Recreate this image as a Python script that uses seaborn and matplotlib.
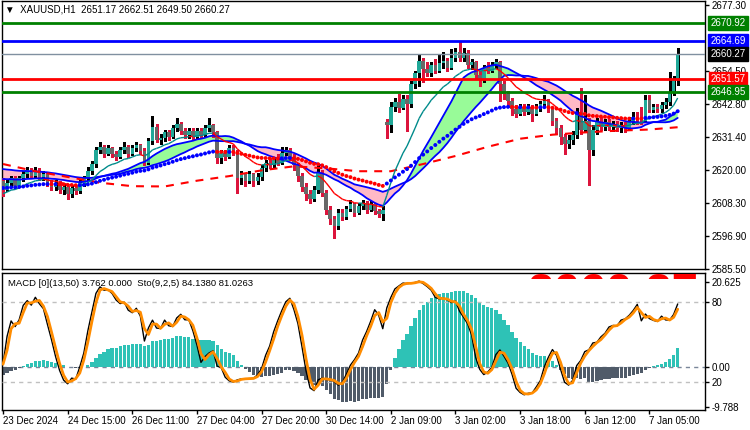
import numpy as np
import pandas as pd
import matplotlib
matplotlib.use("Agg")
import matplotlib.pyplot as plt
import matplotlib.transforms as mtransforms
from matplotlib.collections import LineCollection
import seaborn as sns

sns.set_theme(style="white")
plt.rcParams["font.family"] = ["Liberation Sans", "DejaVu Sans"]
plt.rcParams["text.color"] = "black"
plt.rcParams["xtick.color"] = "black"
plt.rcParams["ytick.color"] = "black"

# ---------------- data (H1 bars) ----------------
opens = [
2616.0, 2613.0, 2615.5, 2617.0, 2614.5, 2617.0, 2618.5, 2620.0, 2618.0, 2619.5,
2617.5, 2618.5, 2615.5, 2614.0, 2615.5, 2613.0, 2614.0, 2611.5, 2613.5, 2612.5,
2615.5, 2617.0, 2619.5, 2622.0, 2627.0, 2628.0, 2625.5, 2627.5, 2625.5, 2624.5,
2627.0, 2628.0, 2625.5, 2627.5, 2628.5, 2626.5, 2622.5, 2630.0, 2635.0, 2630.5,
2631.0, 2633.0, 2631.5, 2634.5, 2636.0, 2633.5, 2632.0, 2633.5, 2631.5, 2633.5,
2632.0, 2634.5, 2635.5, 2633.0, 2624.0, 2626.0, 2624.5, 2627.5, 2626.0, 2617.0,
2618.5, 2616.0, 2618.5, 2616.0, 2617.5, 2620.5, 2622.5, 2621.5, 2623.5, 2622.5,
2626.0, 2627.0, 2624.5, 2621.5, 2618.0, 2614.0, 2611.5, 2610.0, 2613.0, 2619.0,
2612.0, 2606.0, 2603.0, 2600.5, 2605.0, 2603.5, 2606.5, 2608.0, 2605.0, 2607.5,
2608.5, 2606.0, 2608.0, 2605.5, 2604.5, 2636.5, 2635.5, 2642.0, 2643.5, 2641.5,
2644.5, 2643.0, 2650.0, 2653.5, 2658.0, 2655.0, 2653.5, 2656.5, 2654.5, 2657.0,
2658.0, 2655.5, 2659.0, 2661.0, 2659.0, 2660.5, 2656.5, 2657.5, 2653.0, 2651.5,
2655.5, 2654.5, 2656.5, 2657.5, 2650.0, 2646.5, 2644.0, 2641.0, 2639.5, 2642.0,
2640.0, 2642.0, 2639.5, 2641.5, 2643.0, 2644.0, 2641.5, 2637.0, 2634.5, 2631.5,
2629.0, 2630.5, 2632.0, 2640.0, 2634.0, 2637.0, 2627.0, 2634.0, 2636.5, 2635.0,
2636.5, 2635.0, 2636.0, 2634.5, 2635.5, 2634.5, 2637.0, 2638.5, 2637.5, 2637.0,
2644.3, 2640.8, 2641.8, 2641.0, 2642.5, 2643.5, 2647.0, 2651.17]

highs = [
2617.0, 2616.5, 2618.0, 2618.0, 2618.0, 2619.5, 2621.0, 2620.5, 2621.0, 2620.5,
2619.5, 2619.0, 2616.5, 2616.5, 2616.0, 2615.0, 2614.5, 2614.5, 2614.5, 2616.5,
2618.0, 2621.0, 2623.0, 2628.0, 2629.5, 2628.5, 2628.5, 2628.0, 2626.5, 2628.0,
2629.5, 2628.5, 2628.5, 2629.5, 2629.0, 2627.5, 2631.0, 2638.7, 2636.0, 2632.5,
2634.0, 2634.0, 2635.5, 2638.0, 2636.5, 2634.5, 2634.5, 2634.5, 2634.5, 2634.5,
2635.5, 2638.0, 2636.0, 2633.5, 2627.0, 2627.0, 2628.5, 2628.5, 2627.0, 2619.5,
2619.0, 2619.5, 2619.0, 2619.0, 2621.5, 2623.5, 2624.0, 2624.5, 2625.5, 2628.0,
2628.0, 2627.5, 2625.5, 2622.5, 2619.0, 2615.5, 2613.0, 2614.5, 2622.0, 2620.0,
2613.0, 2607.5, 2604.0, 2606.5, 2606.5, 2607.5, 2609.5, 2608.5, 2608.5, 2609.5,
2609.0, 2609.0, 2608.5, 2606.5, 2607.5, 2637.5, 2643.5, 2645.0, 2646.5, 2646.0,
2646.0, 2651.0, 2654.5, 2660.0, 2659.0, 2657.5, 2657.5, 2658.5, 2660.0, 2661.0,
2659.0, 2662.0, 2662.5, 2664.4, 2662.5, 2661.5, 2658.5, 2658.0, 2654.5, 2656.5,
2657.5, 2657.5, 2658.5, 2658.0, 2651.0, 2647.5, 2645.0, 2642.5, 2643.0, 2643.0,
2643.0, 2642.5, 2643.0, 2644.0, 2646.0, 2644.5, 2642.0, 2638.0, 2635.5, 2632.5,
2632.0, 2633.5, 2641.5, 2648.5, 2646.0, 2638.0, 2635.5, 2638.0, 2638.5, 2637.5,
2637.5, 2637.0, 2637.0, 2636.5, 2636.5, 2638.5, 2640.0, 2640.0, 2642.0, 2646.0,
2646.0, 2643.0, 2643.0, 2643.5, 2645.0, 2654.0, 2652.5, 2662.51]

lows = [
2611.0, 2612.5, 2614.5, 2613.5, 2614.0, 2616.0, 2617.5, 2617.0, 2617.0, 2616.5,
2616.5, 2614.5, 2613.0, 2613.0, 2612.0, 2611.5, 2610.0, 2610.5, 2611.5, 2612.0,
2614.5, 2616.5, 2618.5, 2621.0, 2626.0, 2624.5, 2625.0, 2624.5, 2623.5, 2624.0,
2626.0, 2624.5, 2625.0, 2626.5, 2625.5, 2621.5, 2622.0, 2629.0, 2629.5, 2629.0,
2630.0, 2630.5, 2631.0, 2633.5, 2632.5, 2631.0, 2631.0, 2630.5, 2631.0, 2631.0,
2631.5, 2633.5, 2631.5, 2622.5, 2622.5, 2623.5, 2624.0, 2625.0, 2612.0, 2615.0,
2614.5, 2615.5, 2614.5, 2615.0, 2616.5, 2619.5, 2620.5, 2621.0, 2621.5, 2622.0,
2625.0, 2623.5, 2620.0, 2616.0, 2612.5, 2609.5, 2608.5, 2609.0, 2612.0, 2611.0,
2604.5, 2601.0, 2596.3, 2599.5, 2602.5, 2603.0, 2605.5, 2604.0, 2604.5, 2606.5,
2605.0, 2605.5, 2604.5, 2603.5, 2602.5, 2631.0, 2633.0, 2640.5, 2640.0, 2641.0,
2633.5, 2642.0, 2648.5, 2649.0, 2650.5, 2652.5, 2652.5, 2653.5, 2654.0, 2655.5,
2654.5, 2655.0, 2658.0, 2658.0, 2658.0, 2655.5, 2655.0, 2652.0, 2649.0, 2650.5,
2653.5, 2654.0, 2655.5, 2644.0, 2644.5, 2642.0, 2639.0, 2638.5, 2639.0, 2639.0,
2639.5, 2637.0, 2639.0, 2640.5, 2642.0, 2640.0, 2635.5, 2632.5, 2629.0, 2625.5,
2627.5, 2629.0, 2631.0, 2632.5, 2633.0, 2614.7, 2625.0, 2632.5, 2634.0, 2634.0,
2634.0, 2633.5, 2633.5, 2633.0, 2633.0, 2634.0, 2636.0, 2636.0, 2636.0, 2636.5,
2640.0, 2640.0, 2640.0, 2640.0, 2641.5, 2642.5, 2646.0, 2649.5]

closes = [
2613.0, 2615.5, 2617.0, 2614.5, 2617.0, 2618.5, 2620.0, 2618.0, 2619.5, 2617.5,
2618.5, 2615.5, 2614.0, 2615.5, 2613.0, 2614.0, 2611.5, 2613.5, 2612.5, 2615.5,
2617.0, 2619.5, 2622.0, 2627.0, 2628.0, 2625.5, 2627.5, 2625.5, 2624.5, 2627.0,
2628.0, 2625.5, 2627.5, 2628.5, 2626.5, 2622.5, 2630.0, 2635.0, 2630.5, 2631.0,
2633.0, 2631.5, 2634.5, 2636.0, 2633.5, 2632.0, 2633.5, 2631.5, 2633.5, 2632.0,
2634.5, 2635.5, 2633.0, 2624.0, 2626.0, 2624.5, 2627.5, 2626.0, 2617.0, 2618.5,
2616.0, 2618.5, 2616.0, 2617.5, 2620.5, 2622.5, 2621.5, 2623.5, 2622.5, 2626.0,
2627.0, 2624.5, 2621.5, 2618.0, 2614.0, 2611.5, 2610.0, 2613.0, 2619.0, 2612.0,
2606.0, 2603.0, 2600.5, 2605.0, 2603.5, 2606.5, 2608.0, 2605.0, 2607.5, 2608.5,
2606.0, 2608.0, 2605.5, 2604.5, 2606.0, 2635.5, 2642.0, 2643.5, 2641.5, 2644.5,
2643.0, 2650.0, 2653.5, 2658.0, 2655.0, 2653.5, 2656.5, 2654.5, 2657.0, 2658.0,
2655.5, 2659.0, 2661.0, 2659.0, 2660.5, 2656.5, 2657.5, 2653.0, 2651.5, 2655.5,
2654.5, 2656.5, 2657.5, 2650.0, 2646.5, 2644.0, 2641.0, 2639.5, 2642.0, 2640.0,
2642.0, 2639.5, 2641.5, 2643.0, 2644.0, 2641.5, 2637.0, 2634.5, 2631.5, 2629.0,
2630.5, 2632.0, 2640.0, 2634.0, 2637.0, 2627.0, 2634.0, 2636.5, 2635.0, 2636.5,
2635.0, 2636.0, 2634.5, 2635.5, 2634.5, 2637.0, 2638.5, 2637.5, 2637.0, 2644.3,
2640.8, 2641.8, 2641.0, 2642.5, 2643.5, 2647.0, 2651.17, 2660.27]

# slow dashed average, read every 8 bars
slow_bars = [0, 8, 16, 24, 32, 40, 48, 56, 64, 72, 80, 88, 96, 104, 112, 120,
             128, 136, 144, 152, 160, 167]
slow_vals = [2622.0, 2619.5, 2617.5, 2615.5, 2614.3, 2614.2, 2616.2, 2617.8,
             2619.8, 2621.2, 2620.5, 2619.5, 2619.5, 2622.0, 2624.8, 2628.0,
             2630.8, 2632.2, 2633.0, 2633.6, 2634.0, 2634.8]

# moving-average periods and their level just before the first bar
ema_periods = {"fast": 13, "dots": 50}
ema_seeds = {"fast": 2611.5, "dots": 2613.7}
band_periods = {"a": 20, "b": 30}
band_seeds = {"a": 2617.0, "b": 2620.5}
sto_k, sto_d, sto_slow = 9, 2, 5

tick_bars = [0, 16, 32, 48, 64, 80, 96, 112, 128, 144, 160]
tick_labels = ["23 Dec 2024", "24 Dec 15:00", "26 Dec 11:00", "27 Dec 04:00",
               "27 Dec 20:00", "30 Dec 14:00", "2 Jan 09:00", "3 Jan 02:00",
               "3 Jan 18:00", "6 Jan 12:00", "7 Jan 05:00"]
price_ticks = [2677.30, 2654.50, 2642.80, 2631.40, 2620.00, 2608.30,
               2596.90, 2585.50]
level_prices = [2670.92, 2664.69, 2651.57, 2646.95]
level_colors = ["#008000", "#0000FF", "#FF0000", "#008000"]
last_price = 2660.27

# ---------------- indicators ----------------
o = np.array(opens); h = np.array(highs); l = np.array(lows); c = np.array(closes)
N = len(c)
x = np.arange(N)


def ema(vals, n, seed):
    a = 2.0 / (n + 1)
    out, e = [], seed
    for v in vals:
        e = e + a * (v - e)
        out.append(e)
    return np.array(out)


def sma(vals, n, seed):
    padded = pd.Series([seed] * (n - 1) + list(vals))
    return padded.rolling(n).mean().values[n - 1:]


ma_fast = ema(c, ema_periods["fast"], ema_seeds["fast"])
ma_dots = ema(c, ema_periods["dots"], ema_seeds["dots"])
band_a = sma(c, band_periods["a"], band_seeds["a"])
band_b = sma(c, band_periods["b"], band_seeds["b"])
macd_hist = ma_fast - ma_dots

hs, ls, cs = pd.Series(h), pd.Series(l), pd.Series(c)
hh = hs.rolling(sto_k, min_periods=1).max()
ll = ls.rolling(sto_k, min_periods=1).min()
k_line = 100 * (cs - ll).rolling(sto_slow, min_periods=1).sum() / \
    (hh - ll).rolling(sto_slow, min_periods=1).sum()
d_line = k_line.rolling(sto_d, min_periods=1).mean()

# ---------------- figure ----------------
W, H = 750, 430
fig = plt.figure(figsize=(W / 100, H / 100), dpi=100)
fig.patch.set_facecolor("white")


def rect(x0, y0, x1, y1):
    return [x0 / W, 1 - y1 / H, (x1 - x0) / W, (y1 - y0) / H]


ax = fig.add_axes(rect(2, 1, 705, 269))
axm = fig.add_axes(rect(2, 273, 705, 410))
axs = axm.twinx()

XL = (-0.25, 173.76)
for a in (ax, axm, axs):
    a.set_xlim(*XL)
ax.set_ylim(2585.50, 2678.69)

TEAL_C = "#20A898"
GRAY_C = "#686868"

# band
ax.fill_between(x, band_a, band_b, where=band_a >= band_b, interpolate=True,
                color="#98FB98", lw=0, zorder=1)
ax.fill_between(x, band_a, band_b, where=band_a < band_b, interpolate=True,
                color="#FFB9C6", lw=0, zorder=1)

# candles
up = c >= o
body_lo = np.minimum(o, c)
body_h = np.maximum(np.abs(c - o), 0.35)
ax.vlines(x[up], l[up], h[up], color="black", lw=1, zorder=3, antialiased=False)
ax.vlines(x[~up], l[~up], h[~up], color="#DC143C", lw=1, zorder=3, antialiased=False)
ax.bar(x[up], body_h[up], bottom=body_lo[up], width=0.88, color=TEAL_C, lw=0,
       zorder=4, antialiased=False)
ax.bar(x[~up], body_h[~up], bottom=body_lo[~up], width=0.88, color=GRAY_C, lw=0,
       zorder=4, antialiased=False)

# band edges
sns.lineplot(x=x, y=band_a, ax=ax, color="#0000FF", lw=1.3, zorder=5)
sns.lineplot(x=x, y=band_b, ax=ax, color="#0000FF", lw=1.3, zorder=5)

# slow dashed average
sns.lineplot(x=slow_bars, y=slow_vals, ax=ax, color="#FF0000", lw=1.5, zorder=5,
             linestyle=(0, (3.8, 3.4)))

# fast thin average coloured by slope
seg = np.stack([np.column_stack([x[:-1], ma_fast[:-1]]),
                np.column_stack([x[1:], ma_fast[1:]])], axis=1)
seg_cols = ["#008B8B" if ma_fast[i + 1] >= ma_fast[i] else "#FF0000" for i in range(N - 1)]
ax.add_collection(LineCollection(seg, colors=seg_cols, linewidths=1.0, zorder=6))

# dotted average coloured by slope
dot_cols = ["#0000FF" if (i == 0 or ma_dots[i] >= ma_dots[i - 1]) else "#FF0000" for i in range(N)]
ax.scatter(x, ma_dots, c=dot_cols, s=8, marker="o", linewidths=0, zorder=7)

# horizontal levels
for p, col in zip(level_prices, level_colors):
    ax.axhline(p, color=col, lw=2, zorder=8)
ax.axhline(last_price, color="#8090A0", lw=1, zorder=8)

# axis cosmetics main
ax.set_xticks([])
ax.yaxis.tick_right()
ax.set_yticks(price_ticks)
ax.set_yticklabels([f"{v:.2f}" for v in price_ticks])
ax.tick_params(axis="y", direction="out", length=3, width=1, pad=2, labelsize=7)
ax.set_ylabel("")
for s in ax.spines.values():
    s.set_color("black"); s.set_linewidth(1)

bt = mtransforms.blended_transform_factory(ax.transAxes, ax.transData)
box_x = 1.0 + (728 - 705) / 703
for p, col in zip(level_prices + [last_price], level_colors + ["black"]):
    ax.text(box_x, p, f"{p:.2f}", transform=bt, ha="center", va="center",
            color="white", fontsize=7, zorder=20, clip_on=False,
            bbox=dict(boxstyle="square,pad=0.2", fc=col, ec=col))

fig.text(5 / W, 1 - 10 / H, "\u25bc  XAUUSD,H1  2651.17 2662.51 2649.50 2660.27",
         fontsize=7, va="center", ha="left")

# ---------------- lower panel ----------------
k_px = 85 / 20.625
axm.set_ylim(-(410 - 367) / k_px, (367 - 273) / k_px)
hist_cols = ["#2EC2B6" if v >= 0 else "#505B69" for v in macd_hist]
axm.bar(x, macd_hist, width=0.8, color=hist_cols, lw=0, zorder=2, antialiased=False)
axm.axhline(0, color="#7A8699", lw=1, ls=(0, (3, 3)), zorder=1)

s_px = 80 / 60.0
axs.set_ylim(-(410 - 408.7) / s_px, 100 + (275.3 - 273) / s_px)
axs.axhline(80, color="#C0C0C0", lw=1, ls=(0, (3, 3)), zorder=1)
axs.axhline(20, color="#C0C0C0", lw=1, ls=(0, (3, 3)), zorder=1)
sns.lineplot(x=x, y=k_line.values, ax=axs, color="black", lw=1.0, zorder=3)
sns.lineplot(x=x, y=d_line.values, ax=axs, color="#FF8C00", lw=2.0, zorder=4)

axm.yaxis.tick_right()
axm.set_yticks([20.625, 0.0, -9.788])
axm.set_yticklabels(["20.625", "0.00", "-9.788"])
axs.set_yticks([80, 20])
axs.set_yticklabels(["80", "20"])
for a in (axm, axs):
    a.tick_params(axis="y", direction="out", length=3, width=1, pad=2, labelsize=7)
    a.set_ylabel("")
axs.tick_params(axis="x", bottom=False, labelbottom=False)
axm.set_xticks(tick_bars)
axm.set_xticklabels(tick_labels, ha="left")
axm.tick_params(axis="x", direction="out", length=3, width=1, pad=1, labelsize=7, bottom=True)
for s in axm.spines.values():
    s.set_color("black"); s.set_linewidth(1)
for s in axs.spines.values():
    s.set_visible(False)

fig.text(8 / W, 1 - 284 / H, "MACD [0](13,50) 3.762 0.000  Sto(9,2,5) 84.1380 81.0263",
         fontsize=6.8, va="center", ha="left")

# big price watermark peeking under the separator (only its top strip shows)
wm = fig.text(527 / W, 1 - 306 / H, "2660.27", fontsize=34, fontweight="bold",
              color="#FF0000", ha="left", va="baseline", zorder=0.5)
clip_bb = mtransforms.TransformedBbox(
    mtransforms.Bbox.from_extents(520 / W, 1 - 278.5 / H, 705 / W, 1 - 273.5 / H),
    fig.transFigure)
wm.set_clip_box(clip_bb)
wm.set_clip_on(True)

fig.savefig("out.png", dpi=100)
